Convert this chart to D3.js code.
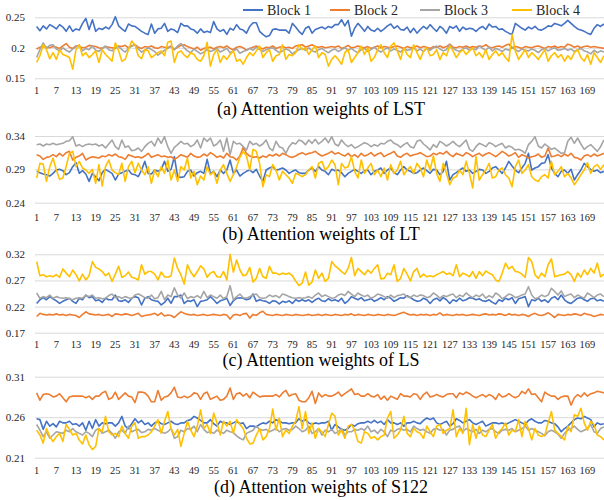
<!DOCTYPE html>
<html><head><meta charset="utf-8">
<script src="https://cdn.jsdelivr.net/npm/d3@7/dist/d3.min.js"></script>
<style>
html,body{margin:0;padding:0;background:#fff;}
svg{display:block;font-family:"Liberation Serif","Times New Roman",serif;}
</style></head>
<body>
<script>
const N = 174;
const categories = d3.range(1, N + 1);
const blockNames = ["Block 1", "Block 2", "Block 3", "Block 4"];
const blockColors = ["#4472C4", "#ED7D31", "#A5A5A5", "#FFC000"];
const panelTitles = ["(a) Attention weights of LST", "(b) Attention weights of LT", "(c) Attention weights of LS", "(d) Attention weights of S122"];
const yTicksLST = [0.15, 0.2, 0.25];
const yTicksLT = [0.24, 0.29, 0.34];
const yTicksLS = [0.17, 0.22, 0.27, 0.32];
const yTicksS122 = [0.21, 0.26, 0.31];

// (a) LST
const lstBlock1 = [0.235,0.228,0.236,0.231,0.238,0.235,0.231,0.238,0.234,0.227,
0.236,0.227,0.231,0.229,0.240,0.248,0.230,0.246,0.227,0.232,
0.230,0.234,0.231,0.238,0.251,0.236,0.231,0.227,0.239,0.236,
0.235,0.231,0.227,0.224,0.222,0.239,0.224,0.231,0.232,0.240,
0.227,0.231,0.229,0.225,0.240,0.236,0.236,0.231,0.229,0.224,
0.231,0.225,0.227,0.225,0.243,0.231,0.227,0.230,0.222,0.232,
0.229,0.238,0.231,0.229,0.224,0.235,0.241,0.241,0.227,0.222,
0.218,0.220,0.230,0.231,0.229,0.229,0.229,0.224,0.240,0.234,
0.227,0.222,0.232,0.235,0.224,0.230,0.232,0.234,0.231,0.235,
0.233,0.238,0.238,0.246,0.236,0.245,0.219,0.232,0.240,0.234,
0.227,0.235,0.229,0.227,0.232,0.227,0.231,0.236,0.239,0.232,
0.236,0.230,0.229,0.234,0.225,0.232,0.224,0.230,0.235,0.231,
0.238,0.232,0.227,0.235,0.231,0.224,0.235,0.232,0.236,0.227,
0.234,0.230,0.232,0.231,0.227,0.232,0.235,0.230,0.239,0.234,
0.235,0.230,0.231,0.227,0.224,0.222,0.240,0.236,0.232,0.229,
0.234,0.231,0.235,0.230,0.229,0.232,0.236,0.235,0.240,0.238,
0.236,0.240,0.245,0.240,0.235,0.231,0.229,0.227,0.224,0.222,
0.232,0.238,0.235,0.239];
const lstBlock2 = [0.198,0.201,0.202,0.201,0.200,0.202,0.201,0.199,0.203,0.207,
0.201,0.199,0.203,0.202,0.200,0.201,0.204,0.203,0.202,0.200,
0.199,0.202,0.201,0.200,0.199,0.203,0.202,0.204,0.200,0.203,
0.205,0.201,0.199,0.202,0.201,0.203,0.200,0.199,0.202,0.201,
0.200,0.203,0.197,0.201,0.204,0.205,0.202,0.200,0.198,0.201,
0.196,0.199,0.200,0.201,0.198,0.201,0.202,0.200,0.203,0.199,
0.197,0.201,0.202,0.200,0.196,0.199,0.201,0.203,0.200,0.198,
0.201,0.200,0.203,0.199,0.201,0.202,0.200,0.201,0.199,0.203,
0.204,0.205,0.201,0.203,0.205,0.202,0.201,0.202,0.200,0.201,
0.202,0.201,0.203,0.199,0.201,0.204,0.200,0.201,0.203,0.201,
0.200,0.202,0.199,0.201,0.203,0.200,0.202,0.201,0.200,0.202,
0.203,0.201,0.199,0.202,0.200,0.201,0.203,0.200,0.202,0.201,
0.199,0.202,0.201,0.203,0.200,0.202,0.206,0.201,0.200,0.202,
0.201,0.203,0.200,0.202,0.201,0.203,0.202,0.205,0.201,0.200,
0.202,0.203,0.201,0.204,0.206,0.200,0.202,0.201,0.199,0.202,
0.201,0.200,0.202,0.203,0.201,0.199,0.202,0.201,0.203,0.200,
0.202,0.201,0.206,0.204,0.201,0.203,0.200,0.202,0.203,0.201,
0.202,0.201,0.200,0.199];
const lstBlock3 = [0.184,0.197,0.208,0.199,0.204,0.205,0.198,0.195,0.200,0.196,
0.193,0.198,0.202,0.204,0.195,0.199,0.197,0.203,0.196,0.194,
0.199,0.203,0.197,0.195,0.200,0.202,0.197,0.193,0.199,0.203,
0.205,0.198,0.193,0.196,0.200,0.197,0.194,0.188,0.192,0.196,
0.199,0.202,0.197,0.203,0.207,0.200,0.195,0.192,0.198,0.194,
0.190,0.193,0.197,0.194,0.196,0.199,0.193,0.196,0.199,0.192,
0.195,0.198,0.191,0.194,0.196,0.199,0.196,0.201,0.197,0.194,
0.197,0.199,0.200,0.196,0.192,0.195,0.198,0.196,0.190,0.194,
0.197,0.199,0.196,0.200,0.195,0.193,0.197,0.199,0.195,0.192,
0.196,0.198,0.194,0.197,0.200,0.196,0.199,0.195,0.192,0.197,
0.199,0.194,0.197,0.201,0.196,0.193,0.197,0.200,0.195,0.198,
0.196,0.193,0.199,0.196,0.197,0.200,0.195,0.198,0.194,0.199,
0.196,0.200,0.203,0.198,0.195,0.197,0.205,0.199,0.196,0.194,
0.198,0.200,0.196,0.199,0.197,0.203,0.199,0.196,0.201,0.195,
0.199,0.197,0.194,0.198,0.196,0.200,0.197,0.194,0.198,0.196,
0.195,0.198,0.196,0.192,0.197,0.199,0.195,0.198,0.200,0.196,
0.197,0.199,0.196,0.198,0.194,0.197,0.199,0.195,0.193,0.190,
0.196,0.192,0.195,0.193];
const lstBlock4 = [0.176,0.187,0.205,0.197,0.182,0.192,0.181,0.197,0.189,0.187,
0.184,0.165,0.197,0.205,0.187,0.192,0.184,0.189,0.195,0.176,
0.197,0.189,0.184,0.178,0.208,0.195,0.178,0.181,0.197,0.211,
0.205,0.187,0.182,0.197,0.195,0.184,0.188,0.192,0.195,0.187,
0.209,0.211,0.176,0.192,0.195,0.188,0.184,0.192,0.189,0.181,
0.178,0.187,0.209,0.170,0.189,0.197,0.176,0.187,0.181,0.189,
0.195,0.178,0.181,0.173,0.184,0.192,0.187,0.195,0.203,0.184,
0.192,0.197,0.178,0.187,0.189,0.205,0.181,0.189,0.187,0.192,
0.205,0.197,0.200,0.189,0.197,0.203,0.184,0.192,0.189,0.170,
0.181,0.187,0.181,0.173,0.192,0.197,0.176,0.184,0.192,0.203,
0.189,0.200,0.178,0.184,0.197,0.205,0.192,0.184,0.203,0.208,
0.195,0.181,0.200,0.189,0.184,0.205,0.192,0.181,0.195,0.200,
0.187,0.189,0.197,0.181,0.192,0.187,0.203,0.195,0.184,0.192,
0.197,0.189,0.195,0.200,0.187,0.192,0.184,0.197,0.181,0.189,
0.195,0.187,0.192,0.184,0.178,0.222,0.195,0.181,0.189,0.197,
0.184,0.192,0.187,0.181,0.189,0.197,0.178,0.187,0.192,0.184,
0.189,0.178,0.187,0.181,0.192,0.197,0.184,0.178,0.189,0.173,
0.192,0.184,0.176,0.187];

// (b) LT
const ltBlock1 = [0.287,0.285,0.283,0.282,0.280,0.284,0.289,0.290,0.288,0.282,
0.285,0.294,0.300,0.284,0.288,0.283,0.272,0.284,0.279,0.273,
0.285,0.290,0.287,0.284,0.274,0.283,0.285,0.287,0.289,0.283,
0.282,0.279,0.289,0.302,0.284,0.283,0.289,0.287,0.290,0.302,
0.287,0.290,0.309,0.279,0.278,0.279,0.287,0.289,0.280,0.285,
0.287,0.284,0.305,0.284,0.287,0.279,0.289,0.284,0.289,0.304,
0.284,0.289,0.280,0.284,0.287,0.289,0.285,0.290,0.280,0.272,
0.289,0.292,0.294,0.289,0.290,0.292,0.289,0.284,0.287,0.289,
0.285,0.284,0.284,0.289,0.292,0.287,0.294,0.289,0.287,0.282,
0.290,0.288,0.289,0.285,0.279,0.284,0.287,0.290,0.287,0.284,
0.288,0.289,0.282,0.287,0.289,0.292,0.284,0.289,0.292,0.285,
0.282,0.289,0.294,0.289,0.287,0.284,0.285,0.289,0.292,0.288,
0.284,0.290,0.289,0.282,0.287,0.302,0.274,0.282,0.285,0.289,
0.292,0.287,0.289,0.284,0.287,0.290,0.289,0.284,0.287,0.292,
0.294,0.289,0.284,0.292,0.302,0.295,0.289,0.285,0.292,0.299,
0.314,0.289,0.292,0.294,0.299,0.300,0.312,0.292,0.284,0.279,
0.287,0.289,0.284,0.290,0.274,0.282,0.289,0.299,0.294,0.290,
0.287,0.289,0.285,0.287];
const ltBlock2 = [0.312,0.310,0.305,0.308,0.309,0.312,0.309,0.314,0.310,0.315,
0.317,0.304,0.308,0.310,0.314,0.304,0.307,0.309,0.308,0.307,
0.310,0.309,0.312,0.310,0.313,0.309,0.308,0.305,0.312,0.310,
0.308,0.309,0.307,0.310,0.314,0.308,0.310,0.312,0.309,0.310,
0.308,0.309,0.305,0.308,0.312,0.310,0.308,0.314,0.310,0.308,
0.309,0.313,0.310,0.315,0.312,0.308,0.310,0.307,0.314,0.309,
0.308,0.304,0.310,0.323,0.314,0.310,0.308,0.309,0.307,0.310,
0.308,0.312,0.310,0.313,0.310,0.314,0.312,0.309,0.308,0.310,
0.313,0.315,0.312,0.314,0.315,0.317,0.313,0.310,0.312,0.314,
0.317,0.313,0.315,0.312,0.310,0.314,0.309,0.312,0.308,0.314,
0.310,0.312,0.315,0.310,0.313,0.315,0.309,0.312,0.314,0.317,
0.310,0.308,0.312,0.314,0.310,0.312,0.313,0.315,0.312,0.309,
0.310,0.314,0.312,0.315,0.313,0.317,0.312,0.309,0.314,0.312,
0.310,0.315,0.313,0.309,0.312,0.314,0.310,0.313,0.315,0.312,
0.309,0.313,0.317,0.314,0.310,0.312,0.315,0.308,0.312,0.310,
0.307,0.309,0.310,0.313,0.308,0.310,0.322,0.309,0.310,0.312,
0.309,0.313,0.310,0.314,0.308,0.307,0.304,0.310,0.312,0.309,
0.313,0.310,0.312,0.314];
const ltBlock3 = [0.327,0.328,0.325,0.328,0.327,0.329,0.327,0.328,0.329,0.332,
0.333,0.339,0.325,0.327,0.324,0.327,0.328,0.327,0.328,0.325,
0.327,0.322,0.328,0.334,0.324,0.320,0.334,0.323,0.325,0.318,
0.319,0.322,0.317,0.324,0.329,0.332,0.325,0.337,0.329,0.339,
0.324,0.314,0.323,0.327,0.332,0.328,0.329,0.324,0.327,0.334,
0.322,0.337,0.332,0.337,0.325,0.328,0.334,0.317,0.337,0.312,
0.332,0.328,0.329,0.324,0.319,0.332,0.327,0.329,0.325,0.328,
0.334,0.322,0.318,0.332,0.324,0.322,0.314,0.324,0.330,0.328,
0.334,0.332,0.327,0.334,0.329,0.335,0.328,0.332,0.337,0.330,
0.339,0.328,0.325,0.334,0.328,0.324,0.327,0.322,0.324,0.327,
0.330,0.328,0.324,0.327,0.325,0.329,0.328,0.332,0.334,0.329,
0.327,0.323,0.327,0.330,0.324,0.322,0.332,0.334,0.328,0.324,
0.319,0.327,0.323,0.332,0.329,0.325,0.328,0.332,0.327,0.324,
0.329,0.334,0.320,0.317,0.324,0.329,0.327,0.324,0.330,0.328,
0.324,0.327,0.329,0.322,0.325,0.323,0.319,0.320,0.318,0.314,
0.327,0.332,0.339,0.325,0.322,0.328,0.324,0.320,0.322,0.318,
0.314,0.315,0.332,0.338,0.329,0.337,0.328,0.320,0.324,0.327,
0.322,0.317,0.324,0.334];
const ltBlock4 = [0.277,0.299,0.298,0.272,0.294,0.307,0.289,0.275,0.277,0.294,
0.314,0.317,0.294,0.302,0.292,0.289,0.284,0.290,0.269,0.297,
0.265,0.294,0.304,0.289,0.285,0.282,0.299,0.272,0.294,0.302,
0.285,0.299,0.289,0.282,0.294,0.269,0.289,0.279,0.294,0.284,
0.304,0.274,0.289,0.272,0.294,0.289,0.307,0.277,0.287,0.267,
0.280,0.274,0.294,0.282,0.287,0.269,0.289,0.297,0.284,0.272,
0.282,0.294,0.308,0.317,0.310,0.289,0.320,0.317,0.299,0.264,
0.282,0.279,0.297,0.289,0.274,0.287,0.282,0.277,0.269,0.284,
0.282,0.279,0.282,0.289,0.294,0.277,0.299,0.302,0.289,0.294,
0.304,0.297,0.267,0.299,0.292,0.294,0.309,0.287,0.277,0.304,
0.284,0.292,0.299,0.282,0.289,0.279,0.292,0.274,0.297,0.284,
0.289,0.302,0.282,0.289,0.294,0.284,0.299,0.292,0.279,0.304,
0.289,0.310,0.284,0.272,0.299,0.284,0.267,0.277,0.279,0.289,
0.282,0.302,0.284,0.262,0.309,0.274,0.282,0.289,0.299,0.277,
0.279,0.289,0.292,0.282,0.277,0.264,0.294,0.304,0.284,0.289,
0.297,0.279,0.274,0.272,0.279,0.282,0.277,0.302,0.282,0.287,
0.294,0.279,0.284,0.277,0.267,0.274,0.282,0.289,0.300,0.284,
0.294,0.297,0.290,0.297];

// (c) LS
const lsBlock1 = [0.226,0.233,0.237,0.233,0.239,0.235,0.231,0.226,0.230,0.233,
0.236,0.230,0.226,0.236,0.233,0.242,0.237,0.239,0.231,0.233,
0.228,0.236,0.233,0.233,0.242,0.231,0.230,0.233,0.228,0.236,
0.239,0.237,0.223,0.236,0.239,0.233,0.231,0.230,0.223,0.228,
0.236,0.226,0.239,0.239,0.242,0.226,0.231,0.230,0.233,0.220,
0.230,0.231,0.233,0.239,0.233,0.226,0.231,0.233,0.236,0.222,
0.231,0.236,0.237,0.236,0.233,0.235,0.244,0.230,0.233,0.231,
0.230,0.226,0.231,0.230,0.225,0.230,0.228,0.231,0.226,0.233,
0.230,0.233,0.230,0.233,0.228,0.233,0.236,0.231,0.230,0.235,
0.231,0.233,0.230,0.236,0.226,0.231,0.239,0.236,0.233,0.237,
0.231,0.233,0.235,0.230,0.233,0.237,0.233,0.239,0.236,0.230,
0.233,0.237,0.236,0.241,0.237,0.233,0.230,0.231,0.236,0.233,
0.226,0.233,0.236,0.231,0.237,0.233,0.226,0.233,0.230,0.236,
0.231,0.233,0.237,0.236,0.233,0.235,0.231,0.230,0.233,0.228,
0.225,0.233,0.230,0.236,0.233,0.237,0.226,0.235,0.237,0.239,
0.220,0.233,0.231,0.236,0.230,0.233,0.228,0.236,0.239,0.233,
0.242,0.233,0.228,0.226,0.231,0.236,0.237,0.233,0.230,0.235,
0.236,0.231,0.233,0.230];
const lsBlock2 = [0.201,0.207,0.205,0.204,0.205,0.204,0.206,0.204,0.205,0.203,
0.205,0.204,0.203,0.199,0.205,0.210,0.206,0.205,0.204,0.205,
0.203,0.204,0.205,0.201,0.206,0.205,0.204,0.206,0.205,0.203,
0.205,0.207,0.201,0.203,0.204,0.205,0.207,0.203,0.208,0.202,
0.204,0.203,0.199,0.205,0.210,0.207,0.205,0.204,0.205,0.203,
0.204,0.205,0.203,0.204,0.205,0.204,0.203,0.205,0.204,0.196,
0.204,0.205,0.203,0.206,0.207,0.198,0.205,0.203,0.208,0.211,
0.205,0.204,0.203,0.205,0.204,0.203,0.205,0.204,0.203,0.205,
0.204,0.203,0.204,0.205,0.203,0.204,0.205,0.203,0.205,0.204,
0.203,0.205,0.204,0.203,0.205,0.204,0.206,0.203,0.205,0.204,
0.203,0.205,0.204,0.203,0.205,0.204,0.203,0.205,0.204,0.203,
0.205,0.207,0.209,0.206,0.204,0.205,0.203,0.205,0.204,0.205,
0.203,0.205,0.204,0.208,0.203,0.205,0.204,0.203,0.205,0.204,
0.205,0.203,0.204,0.205,0.204,0.203,0.205,0.206,0.204,0.205,
0.204,0.206,0.205,0.203,0.206,0.204,0.205,0.203,0.205,0.204,
0.201,0.205,0.207,0.204,0.203,0.205,0.208,0.204,0.199,0.205,
0.204,0.203,0.205,0.204,0.206,0.205,0.203,0.207,0.205,0.204,
0.201,0.203,0.205,0.204];
const lsBlock3 = [0.246,0.236,0.239,0.237,0.242,0.236,0.239,0.237,0.236,0.237,
0.235,0.233,0.236,0.237,0.236,0.241,0.239,0.242,0.236,0.237,
0.235,0.236,0.241,0.244,0.237,0.239,0.236,0.239,0.237,0.235,
0.242,0.244,0.241,0.237,0.236,0.242,0.235,0.237,0.249,0.233,
0.242,0.239,0.256,0.242,0.236,0.246,0.235,0.239,0.237,0.241,
0.236,0.249,0.237,0.242,0.239,0.236,0.242,0.235,0.239,0.260,
0.233,0.239,0.244,0.237,0.236,0.239,0.242,0.244,0.237,0.236,
0.237,0.242,0.239,0.241,0.237,0.244,0.242,0.239,0.237,0.236,
0.237,0.236,0.237,0.239,0.236,0.242,0.246,0.239,0.242,0.239,
0.236,0.237,0.242,0.244,0.241,0.249,0.244,0.239,0.246,0.242,
0.239,0.242,0.236,0.239,0.244,0.242,0.239,0.236,0.242,0.237,
0.241,0.242,0.244,0.239,0.237,0.242,0.239,0.242,0.241,0.237,
0.239,0.246,0.242,0.236,0.241,0.239,0.242,0.244,0.237,0.242,
0.239,0.246,0.241,0.237,0.242,0.239,0.244,0.236,0.241,0.237,
0.246,0.242,0.235,0.239,0.244,0.242,0.237,0.239,0.242,0.244,
0.258,0.242,0.235,0.237,0.242,0.239,0.242,0.255,0.249,0.242,
0.250,0.239,0.242,0.244,0.237,0.242,0.239,0.236,0.246,0.242,
0.237,0.242,0.244,0.239];
const lsBlock4 = [0.306,0.279,0.281,0.277,0.279,0.277,0.281,0.276,0.292,0.284,
0.277,0.290,0.281,0.269,0.282,0.271,0.279,0.306,0.295,0.292,
0.287,0.279,0.284,0.268,0.282,0.297,0.276,0.279,0.286,0.276,
0.274,0.271,0.300,0.282,0.287,0.287,0.282,0.271,0.286,0.277,
0.276,0.279,0.313,0.293,0.281,0.263,0.300,0.286,0.277,0.287,
0.298,0.292,0.276,0.284,0.287,0.277,0.276,0.287,0.271,0.320,
0.286,0.309,0.290,0.279,0.281,0.295,0.267,0.274,0.293,0.277,
0.274,0.297,0.284,0.284,0.281,0.284,0.282,0.284,0.279,0.269,
0.260,0.265,0.286,0.261,0.267,0.290,0.274,0.284,0.268,0.274,
0.306,0.298,0.293,0.287,0.282,0.293,0.314,0.279,0.293,0.287,
0.281,0.290,0.284,0.293,0.300,0.273,0.274,0.284,0.281,0.300,
0.268,0.274,0.293,0.282,0.269,0.287,0.293,0.276,0.282,0.277,
0.279,0.277,0.281,0.284,0.287,0.282,0.284,0.279,0.300,0.277,
0.284,0.281,0.277,0.287,0.274,0.287,0.279,0.288,0.284,0.281,
0.271,0.268,0.284,0.303,0.292,0.297,0.287,0.286,0.282,0.276,
0.314,0.306,0.281,0.274,0.284,0.277,0.300,0.311,0.277,0.279,
0.281,0.282,0.287,0.281,0.268,0.284,0.276,0.290,0.281,0.293,
0.284,0.303,0.277,0.282];

// (d) S122
const s122Block1 = [0.258,0.257,0.245,0.255,0.249,0.252,0.248,0.255,0.253,0.253,
0.255,0.251,0.252,0.249,0.253,0.244,0.255,0.246,0.257,0.249,
0.253,0.252,0.253,0.253,0.249,0.253,0.261,0.249,0.246,0.252,
0.258,0.253,0.256,0.251,0.253,0.249,0.253,0.255,0.252,0.251,
0.253,0.255,0.252,0.251,0.253,0.253,0.256,0.257,0.261,0.259,
0.256,0.253,0.253,0.257,0.252,0.249,0.255,0.253,0.253,0.251,
0.253,0.255,0.252,0.253,0.246,0.249,0.249,0.248,0.251,0.253,
0.252,0.255,0.253,0.257,0.255,0.253,0.253,0.252,0.253,0.253,
0.258,0.255,0.257,0.253,0.251,0.253,0.252,0.253,0.253,0.255,
0.244,0.251,0.248,0.245,0.244,0.246,0.251,0.249,0.252,0.253,
0.253,0.255,0.253,0.256,0.253,0.255,0.251,0.257,0.253,0.253,
0.251,0.253,0.249,0.253,0.253,0.255,0.253,0.252,0.256,0.259,
0.257,0.259,0.253,0.251,0.253,0.255,0.249,0.252,0.258,0.256,
0.253,0.255,0.257,0.253,0.251,0.253,0.255,0.249,0.251,0.253,
0.253,0.252,0.253,0.251,0.253,0.255,0.257,0.255,0.253,0.251,
0.256,0.258,0.255,0.253,0.253,0.256,0.255,0.253,0.252,0.248,
0.242,0.246,0.249,0.253,0.257,0.259,0.258,0.261,0.259,0.257,
0.248,0.253,0.251,0.252];
const s122Block2 = [0.290,0.281,0.288,0.289,0.288,0.285,0.286,0.289,0.284,0.279,
0.285,0.286,0.286,0.286,0.286,0.284,0.286,0.282,0.286,0.286,
0.290,0.292,0.282,0.284,0.291,0.282,0.286,0.290,0.286,0.285,
0.278,0.291,0.291,0.290,0.286,0.279,0.279,0.293,0.281,0.285,
0.286,0.290,0.297,0.285,0.284,0.286,0.284,0.286,0.290,0.289,
0.282,0.289,0.291,0.282,0.284,0.286,0.281,0.282,0.286,0.296,
0.282,0.289,0.290,0.286,0.289,0.284,0.291,0.288,0.285,0.286,
0.286,0.286,0.286,0.288,0.285,0.290,0.293,0.286,0.288,0.289,
0.281,0.279,0.279,0.284,0.292,0.277,0.290,0.285,0.288,0.286,
0.286,0.288,0.291,0.286,0.289,0.292,0.295,0.288,0.289,0.286,
0.286,0.289,0.286,0.285,0.288,0.282,0.286,0.281,0.286,0.284,
0.282,0.289,0.286,0.286,0.285,0.289,0.288,0.282,0.288,0.291,
0.285,0.286,0.288,0.286,0.285,0.288,0.289,0.289,0.284,0.290,
0.288,0.291,0.289,0.286,0.284,0.286,0.288,0.285,0.288,0.286,
0.282,0.289,0.285,0.286,0.289,0.286,0.284,0.286,0.292,0.289,
0.295,0.288,0.289,0.284,0.279,0.291,0.288,0.286,0.286,0.282,
0.285,0.286,0.286,0.275,0.284,0.288,0.285,0.290,0.286,0.289,
0.290,0.292,0.291,0.290];
const s122Block3 = [0.251,0.244,0.236,0.242,0.234,0.238,0.242,0.241,0.240,0.244,
0.242,0.246,0.242,0.240,0.238,0.242,0.240,0.236,0.244,0.246,
0.240,0.242,0.244,0.240,0.234,0.242,0.244,0.240,0.249,0.242,
0.244,0.245,0.241,0.242,0.245,0.244,0.246,0.244,0.242,0.240,
0.242,0.246,0.234,0.236,0.244,0.242,0.246,0.245,0.249,0.242,
0.251,0.245,0.241,0.242,0.240,0.244,0.242,0.240,0.244,0.242,
0.241,0.237,0.234,0.232,0.240,0.242,0.244,0.249,0.245,0.244,
0.245,0.242,0.244,0.246,0.242,0.245,0.246,0.244,0.245,0.249,
0.246,0.242,0.244,0.249,0.240,0.242,0.246,0.238,0.244,0.242,
0.245,0.240,0.242,0.246,0.238,0.242,0.242,0.245,0.244,0.246,
0.244,0.249,0.242,0.244,0.240,0.245,0.242,0.236,0.244,0.242,
0.245,0.246,0.244,0.245,0.242,0.249,0.246,0.244,0.245,0.242,
0.240,0.245,0.246,0.244,0.245,0.238,0.244,0.245,0.248,0.249,
0.242,0.246,0.244,0.242,0.245,0.240,0.244,0.242,0.245,0.246,
0.242,0.240,0.244,0.245,0.244,0.246,0.242,0.244,0.246,0.249,
0.244,0.246,0.244,0.242,0.240,0.237,0.242,0.244,0.242,0.239,
0.234,0.240,0.244,0.246,0.249,0.245,0.242,0.244,0.246,0.251,
0.242,0.240,0.246,0.248];
const s122Block4 = [0.244,0.238,0.228,0.246,0.236,0.230,0.236,0.240,0.230,0.251,
0.245,0.238,0.240,0.232,0.227,0.238,0.226,0.220,0.224,0.246,
0.242,0.261,0.242,0.238,0.240,0.236,0.249,0.240,0.234,0.249,
0.253,0.234,0.236,0.236,0.238,0.242,0.249,0.257,0.240,0.255,
0.267,0.246,0.238,0.245,0.224,0.240,0.255,0.244,0.236,0.249,
0.269,0.246,0.251,0.240,0.265,0.253,0.238,0.255,0.249,0.255,
0.240,0.257,0.251,0.246,0.234,0.227,0.228,0.238,0.246,0.232,
0.236,0.246,0.270,0.244,0.259,0.236,0.244,0.240,0.249,0.255,
0.273,0.246,0.267,0.240,0.253,0.234,0.246,0.242,0.236,0.251,
0.265,0.261,0.238,0.244,0.234,0.249,0.251,0.244,0.230,0.228,
0.242,0.240,0.234,0.236,0.232,0.236,0.238,0.259,0.267,0.234,
0.238,0.244,0.261,0.240,0.236,0.246,0.242,0.240,0.234,0.249,
0.242,0.236,0.249,0.251,0.240,0.244,0.246,0.269,0.236,0.246,
0.240,0.271,0.226,0.251,0.234,0.249,0.238,0.236,0.244,0.251,
0.234,0.242,0.246,0.253,0.238,0.244,0.242,0.257,0.236,0.255,
0.246,0.232,0.246,0.238,0.236,0.238,0.253,0.267,0.244,0.240,
0.236,0.232,0.249,0.242,0.263,0.261,0.271,0.253,0.244,0.255,
0.251,0.238,0.236,0.232];

const panels = [
  { title: panelTitles[0], ticks: yTicksLST, series: [lstBlock1, lstBlock2, lstBlock3, lstBlock4], yBottom: 78.3, yTop: 17.3, xLabelY: 93.5, titleY: 114.5 },
  { title: panelTitles[1], ticks: yTicksLT, series: [ltBlock1, ltBlock2, ltBlock3, ltBlock4], yBottom: 202.7, yTop: 136, xLabelY: 220.5, titleY: 240 },
  { title: panelTitles[2], ticks: yTicksLS, series: [lsBlock1, lsBlock2, lsBlock3, lsBlock4], yBottom: 332.7, yTop: 254.3, xLabelY: 348, titleY: 366 },
  { title: panelTitles[3], ticks: yTicksS122, series: [s122Block1, s122Block2, s122Block3, s122Block4], yBottom: 457.7, yTop: 376.7, xLabelY: 474, titleY: 492.5 }
];

const W = 604, H = 500;
const plotLeft = 35, plotRight = 604;
const svg = d3.select("body").append("svg").attr("width", W).attr("height", H);

const x = d3.scaleBand().domain(categories).range([plotLeft, 605.5]);
const xc = d => x(d) + x.bandwidth() / 2;

panels.forEach(p => {
  const y = d3.scaleLinear().domain([p.ticks[0], p.ticks[p.ticks.length - 1]]).range([p.yBottom, p.yTop]);
  const g = svg.append("g");

  // y axis with gridlines
  const ya = g.append("g").attr("transform", `translate(${plotLeft},0)`)
    .call(d3.axisLeft(y).tickValues(p.ticks).tickSize(-(plotRight - plotLeft)).tickPadding(10).tickFormat(d => String(d)));
  ya.select(".domain").remove();
  ya.selectAll(".tick line").attr("stroke", "#d9d9d9").attr("stroke-width", 1);
  ya.selectAll(".tick text").attr("font-family", "Liberation Serif, Times New Roman, serif").attr("font-size", 11).attr("fill", "#262626");

  // x axis labels
  const xa = g.append("g").attr("transform", `translate(0,${p.xLabelY})`)
    .call(d3.axisBottom(x).tickValues(categories.filter((d, i) => i % 6 === 0)).tickSize(0).tickPadding(0));
  xa.select(".domain").remove();
  xa.selectAll(".tick text").attr("dy", 0).attr("y", 0)
    .attr("font-family", "Liberation Serif, Times New Roman, serif").attr("font-size", 10.5).attr("fill", "#262626");

  // lines
  const line = d3.line().x((d, i) => xc(categories[i])).y(d => y(d));
  p.series.forEach((s, k) => {
    g.append("path").datum(s).attr("d", line).attr("fill", "none")
      .attr("stroke", blockColors[k]).attr("stroke-width", 1.6).attr("stroke-linejoin", "round");
  });

  // title
  g.append("text").attr("x", 321).attr("y", p.titleY).attr("text-anchor", "middle")
    .attr("font-size", 18).attr("fill", "#000").text(p.title);
});

// legend
const legendX = [243, 330, 420, 512];
const lg = svg.append("g");
blockNames.forEach((name, k) => {
  lg.append("line").attr("x1", legendX[k]).attr("x2", legendX[k] + 20).attr("y1", 10).attr("y2", 10)
    .attr("stroke", blockColors[k]).attr("stroke-width", 2);
  lg.append("text").attr("x", legendX[k] + 24).attr("y", 14.5).attr("font-size", 14).attr("fill", "#262626").text(name);
});
</script>
</body></html>
